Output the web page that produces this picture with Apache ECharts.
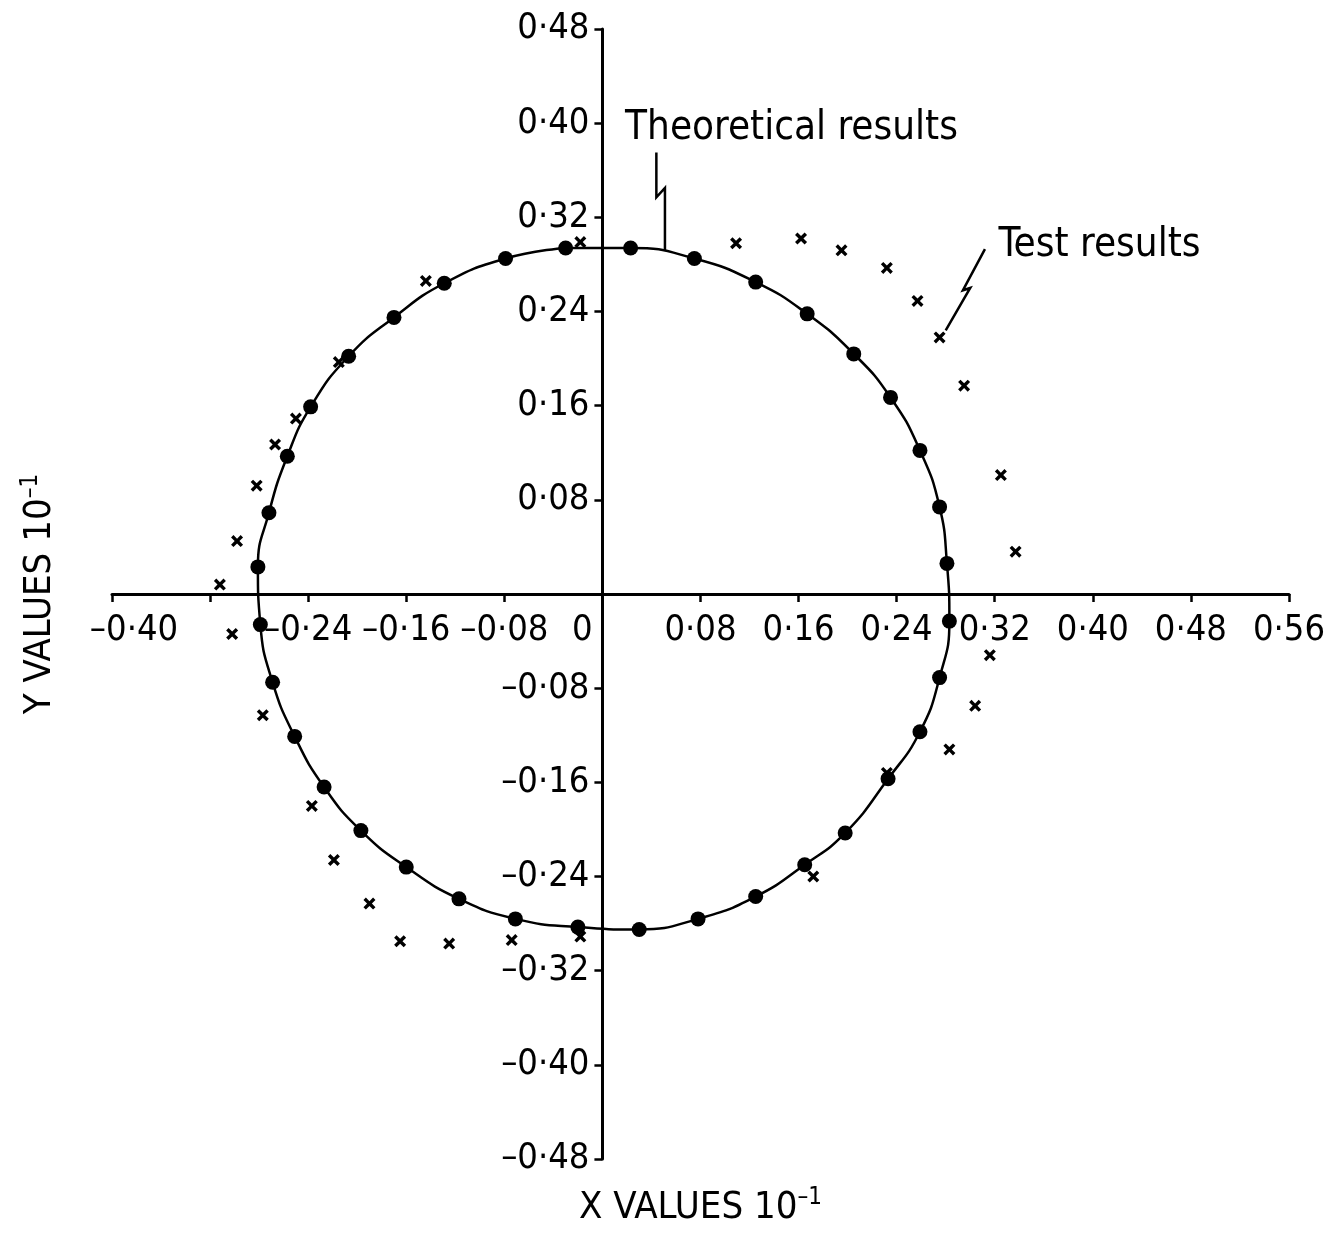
<!DOCTYPE html>
<html><head><meta charset="utf-8">
<script src="https://cdn.jsdelivr.net/npm/echarts/dist/echarts.min.js"></script>
<style>html,body{margin:0;padding:0;background:#fff}#c{width:1343px;height:1235px}</style>
</head><body><div id="c"></div>
<script>
// Theoretical results (dots on the circle)
const theoreticalX = [-0.030,0.023,0.075,0.125,0.167,0.205,0.235,0.259,0.275,0.281,0.283,0.275,0.259,0.233,0.198,0.165,0.125,0.078,0.030,-0.020,-0.071,-0.117,-0.160,-0.197,-0.227,-0.251,-0.269,-0.279,-0.281,-0.272,-0.257,-0.238,-0.207,-0.170,-0.129,-0.079];
const theoreticalY = [0.294,0.294,0.285,0.265,0.238,0.204,0.167,0.122,0.074,0.026,-0.023,-0.071,-0.117,-0.157,-0.203,-0.230,-0.257,-0.276,-0.285,-0.283,-0.276,-0.259,-0.232,-0.201,-0.164,-0.121,-0.075,-0.026,0.023,0.069,0.117,0.159,0.202,0.235,0.264,0.285];
// Test results (x marks)
const testX = [-0.018,0.109,0.162,0.195,0.232,0.257,0.275,0.295,0.325,0.337,0.316,0.304,0.283,0.232,0.172,-0.018,-0.074,-0.125,-0.165,-0.190,-0.219,-0.237,-0.277,-0.302,-0.312,-0.298,-0.282,-0.267,-0.250,-0.215,-0.144];
const testY = [0.299,0.298,0.302,0.292,0.277,0.249,0.218,0.177,0.101,0.036,-0.052,-0.095,-0.132,-0.152,-0.240,-0.291,-0.294,-0.297,-0.295,-0.263,-0.226,-0.180,-0.103,-0.034,0.008,0.045,0.092,0.127,0.149,0.197,0.266];
// Tick labels
const xTickValues = [-0.40,-0.32,-0.24,-0.16,-0.08,0,0.08,0.16,0.24,0.32,0.40,0.48,0.56];
const xTickLabels = ['–0·40','','–0·24','–0·16','–0·08','0','0·08','0·16','0·24','0·32','0·40','0·48','0·56'];
const yTickValues = [-0.48,-0.40,-0.32,-0.24,-0.16,-0.08,0,0.08,0.16,0.24,0.32,0.40,0.48];
const yTickLabels = ['–0·48','–0·40','–0·32','–0·24','–0·16','–0·08','','0·08','0·16','0·24','0·32','0·40','0·48'];
// Annotation texts and leader lines (data coordinates)
const annoTheoText = 'Theoretical results';
const annoTheoAnchor = [0.0185, 0.395];
const annoTheoLeader = [[0.044,0.375],[0.044,0.337],[0.051,0.345],[0.051,0.292]];
const annoTestText = 'Test results';
const annoTestAnchor = [0.323, 0.296];
const annoTestLeader = [[0.312,0.293],[0.294,0.258],[0.300,0.260],[0.280,0.224]];

const FONT = '"Liberation Sans Narrow", "DejaVu Sans Condensed", "Roboto Condensed", sans-serif';
const LBL = 36;
const X_MIN = -0.40, X_MAX = 0.56, Y_MIN = -0.48, Y_MAX = 0.48;
const G = {left: 112, right: 54, top: 29, bottom: 76, W: 1343, H: 1235};
const gw = G.W - G.left - G.right, gh = G.H - G.top - G.bottom;
// offsets that put each axis (with its labels and name) through the origin
const xAxisOffset = -gh * (0 - Y_MIN) / (Y_MAX - Y_MIN);
const yAxisOffset = -gw * (0 - X_MIN) / (X_MAX - X_MIN);

function lab(values, labels, v) {
  for (let i = 0; i < values.length; i++) if (Math.abs(values[i] - v) < 1e-6) return labels[i];
  return '';
}
const chart = echarts.init(document.getElementById('c'), null, {renderer: 'canvas'});
const theoData = theoreticalX.map((x, i) => [x, theoreticalY[i]]);
const loopData = theoData.concat([theoData[0]]);
const testData = testX.map((x, i) => [x, testY[i]]);
const xMark = 'path://M2,0 L5,3 L8,0 L10,2 L7,5 L10,8 L8,10 L5,7 L2,10 L0,8 L3,5 L0,2 Z';

chart.setOption({
  backgroundColor: '#fff',
  animation: false,
  textStyle: {fontFamily: FONT, color: '#000'},
  grid: {left: G.left, right: G.right, top: G.top, bottom: G.bottom, containLabel: false, outerBoundsMode: 'none'},
  xAxis: {
    type: 'value', min: X_MIN, max: X_MAX, interval: 0.08,
    position: 'bottom', offset: xAxisOffset,
    splitLine: {show: false},
    axisLine: {onZero: false, lineStyle: {color: '#000', width: 3}},
    axisTick: {show: true, inside: false, length: 8, lineStyle: {color: '#000', width: 2.5}},
    axisLabel: {
      margin: 19, color: '#000', fontFamily: FONT, fontSize: LBL,
      showMinLabel: true, showMaxLabel: true, hideOverlap: false,
      formatter: function (v) {
        const t = lab(xTickValues, xTickLabels, v);
        if (Math.abs(v - X_MIN) < 1e-6) return '{l|' + t + '}';
        if (Math.abs(v) < 1e-6) return '{r|' + t + '}';
        return t;
      },
      rich: {
        l: {fontFamily: FONT, fontSize: LBL, color: '#000', padding: [0, 0, 0, 44]},
        r: {fontFamily: FONT, fontSize: LBL, color: '#000', padding: [0, 40, 0, 0]}
      }
    },
    name: '{b|X VALUES 10}{s|–1}', nameLocation: 'middle', nameGap: 592,
    nameTextStyle: {
      rich: {
        b: {fontFamily: FONT, fontSize: 38, color: '#000', lineHeight: 44},
        s: {fontFamily: FONT, fontSize: 24, color: '#000', lineHeight: 24, verticalAlign: 'top'}
      }
    }
  },
  yAxis: {
    type: 'value', min: Y_MIN, max: Y_MAX, interval: 0.08,
    position: 'left', offset: yAxisOffset,
    splitLine: {show: false},
    axisLine: {onZero: false, lineStyle: {color: '#000', width: 3}},
    axisTick: {show: true, inside: false, length: 8, lineStyle: {color: '#000', width: 2.5}},
    axisLabel: {
      margin: 13, color: '#000', fontFamily: FONT, fontSize: LBL,
      showMinLabel: true, showMaxLabel: true, hideOverlap: false,
      formatter: function (v) { return lab(yTickValues, yTickLabels, v); }
    },
    name: '{b|Y VALUES 10}{s|–1}', nameLocation: 'middle', nameGap: 540, nameRotate: 90,
    nameTextStyle: {
      rich: {
        b: {fontFamily: FONT, fontSize: 38, color: '#000', lineHeight: 44},
        s: {fontFamily: FONT, fontSize: 24, color: '#000', lineHeight: 24, verticalAlign: 'top'}
      }
    }
  },
  series: [
    {
      name: 'Theoretical curve', type: 'line', data: loopData, smooth: true,
      showSymbol: false, symbol: 'none', silent: true,
      lineStyle: {color: '#000', width: 2.5, opacity: 1}, z: 2
    },
    {
      name: 'Theoretical results', type: 'scatter', data: theoData,
      symbol: 'circle', symbolSize: 15, itemStyle: {color: '#000', opacity: 1}, z: 3
    },
    {
      name: 'Test results', type: 'scatter', data: testData,
      symbol: xMark, symbolSize: 12, itemStyle: {color: '#000', opacity: 1}, z: 4
    }
  ]
});

function px(p) { return chart.convertToPixel({gridIndex: 0}, p); }
const tA = px(annoTheoAnchor), sA = px(annoTestAnchor);
chart.setOption({
  graphic: [
    {type: 'text', left: tA[0], top: tA[1] - 20, z: 10,
     style: {text: annoTheoText, font: '40px ' + FONT, fill: '#000'}},
    {type: 'text', left: sA[0], top: sA[1] - 20, z: 10,
     style: {text: annoTestText, font: '40px ' + FONT, fill: '#000'}},
    {type: 'polyline', z: 10, shape: {points: annoTheoLeader.map(px)},
     style: {stroke: '#000', lineWidth: 2.5, fill: null}},
    {type: 'polyline', z: 10, shape: {points: annoTestLeader.map(px)},
     style: {stroke: '#000', lineWidth: 2.5, fill: null}}
  ]
});
</script>
</body></html>
